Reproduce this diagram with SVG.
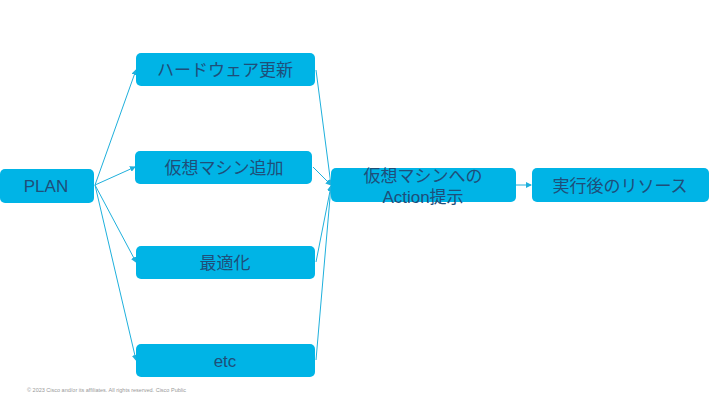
<svg xmlns="http://www.w3.org/2000/svg" width="720" height="405" viewBox="0 0 720 405">
<style>
.n{fill:#00b4e6}
.t{font-family:"Liberation Sans","Noto Sans CJK JP",sans-serif;font-size:17px;fill:#1f4e79;text-anchor:middle}
.c{stroke:#1fb0dc;stroke-width:1;fill:none;marker-end:url(#a)}
</style>
<defs><marker id="a" markerWidth="6" markerHeight="6" refX="5" refY="3" orient="auto" markerUnits="userSpaceOnUse"><path d="M0,0L6,3L0,6z" fill="#1fb0dc"/></marker></defs>
<rect width="720" height="405" fill="#fff"/>
<g id="connectors">
<path class="c" d="M95,185L136,70"/>
<path class="c" d="M95,185L135,167"/>
<path class="c" d="M95,185L136,262"/>
<path class="c" d="M95,185L136,360"/>
<path class="c" d="M316,70L331,185"/>
<path class="c" d="M313,167L331,185"/>
<path class="c" d="M316,262L331,186"/>
<path class="c" d="M316,360L331,186"/>
<path class="c" d="M516,185L531,185"/>
</g>
<g id="plan"><rect class="n" x="0" y="169" width="94" height="34" rx="5"/><text class="t" x="46" y="192" font-size="15">PLAN</text></g>
<g id="hw"><rect class="n" x="136" y="53" width="179" height="33" rx="5"/><text class="t" x="225" y="76">ハードウェア更新</text></g>
<g id="vm"><rect class="n" x="135" y="151" width="177" height="33" rx="5"/><text class="t" x="224" y="174">仮想マシン追加</text></g>
<g id="opt"><rect class="n" x="136" y="246" width="179" height="33" rx="5"/><text class="t" x="225" y="269">最適化</text></g>
<g id="etc"><rect class="n" x="136" y="344" width="179" height="33" rx="5"/><text class="t" x="225" y="367">etc</text></g>
<g id="action"><rect class="n" x="331" y="168" width="185" height="34" rx="5"/><text class="t" x="423" y="182">仮想マシンへの</text><text class="t" x="423" y="203">Action提示</text></g>
<g id="result"><rect class="n" x="532" y="168" width="177" height="34" rx="5"/><text class="t" x="620" y="192">実行後のリソース</text></g>
<text x="27" y="392" font-family="Liberation Sans,sans-serif" font-size="5.5" fill="#999">© 2023  Cisco and/or its affiliates. All rights reserved.   Cisco Public</text>
</svg>
